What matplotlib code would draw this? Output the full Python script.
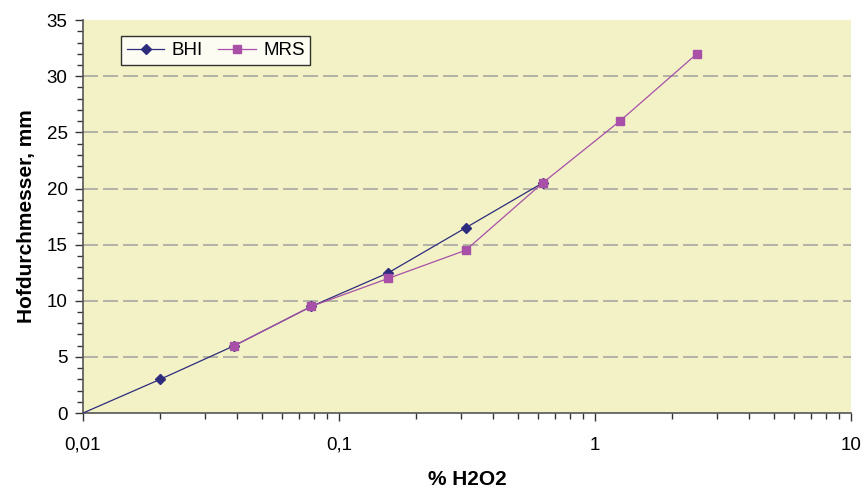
import numpy as np
import matplotlib.pyplot as plt
from matplotlib.ticker import FixedLocator, MultipleLocator, FuncFormatter, LogLocator

plt.rcParams['font.family'] = ['Liberation Sans', 'DejaVu Sans']

# data
bhi_x = [0.01, 0.02, 0.039, 0.078, 0.156, 0.3125, 0.625]
bhi_y = [0, 3, 6, 9.5, 12.5, 16.5, 20.5]
mrs_x = [0.039, 0.078, 0.156, 0.3125, 0.625, 1.25, 2.5]
mrs_y = [6, 9.5, 12, 14.5, 20.5, 26, 32]
x_ticks = [0.01, 0.1, 1, 10]
x_labels = ['0,01', '0,1', '1', '10']

bhi_color = '#2E2C7C'
mrs_color = '#A850A8'

fig = plt.figure(figsize=(8.64, 4.9), dpi=100)
ax = fig.add_axes([0.096, 0.157, 0.889, 0.802])
ax.set_facecolor('#F2F2C6')

ax.plot(bhi_x, bhi_y, color=bhi_color, lw=0.9, marker='D', ms=5,
        markevery=list(range(1, len(bhi_x))), label='BHI', zorder=3)
ax.plot(mrs_x, mrs_y, color=mrs_color, lw=0.9, marker='s', ms=6,
        label='MRS', zorder=4)

ax.set_xscale('log')
ax.set_xlim(0.01, 10)
ax.set_ylim(0, 35)

ax.xaxis.set_major_locator(FixedLocator(x_ticks))
ax.xaxis.set_major_formatter(FuncFormatter(lambda v, p: x_labels[x_ticks.index(v)] if v in x_ticks else ''))
ax.xaxis.set_minor_locator(LogLocator(base=10, subs=np.arange(2, 10)))
ax.xaxis.set_minor_formatter(FuncFormatter(lambda v, p: ''))
ax.yaxis.set_major_locator(MultipleLocator(5))
ax.yaxis.set_minor_locator(MultipleLocator(1))

ax.tick_params(axis='both', which='both', direction='out', color='#333333',
               labelsize=13.5)
ax.tick_params(axis='both', which='major', length=6, width=1)
ax.tick_params(axis='both', which='minor', length=4, width=1)
ax.tick_params(axis='x', which='major', pad=11)
ax.tick_params(axis='y', which='major', pad=5)

for y in range(5, 35, 5):
    ax.axhline(y, color='#A8A8A0', lw=1.2, dashes=(9, 3), zorder=1)

for s in ['top', 'right']:
    ax.spines[s].set_visible(False)
for s in ['left', 'bottom']:
    ax.spines[s].set_color('#555555')
    ax.spines[s].set_linewidth(1.2)

ax.set_xlabel('% H2O2', fontsize=15, fontweight='bold', labelpad=12)
ax.set_ylabel('Hofdurchmesser, mm', fontsize=15, fontweight='bold', labelpad=8)

leg = ax.legend(loc='upper left', bbox_to_anchor=(0.045, 0.968), ncol=2,
                frameon=True, fancybox=False, edgecolor='black', facecolor='white',
                fontsize=13.5, handlelength=2.0, columnspacing=0.8, borderpad=0.3,
                handletextpad=0.4, borderaxespad=0.2)
leg.get_frame().set_linewidth(1.0)

fig.savefig('out.png', dpi=100)
